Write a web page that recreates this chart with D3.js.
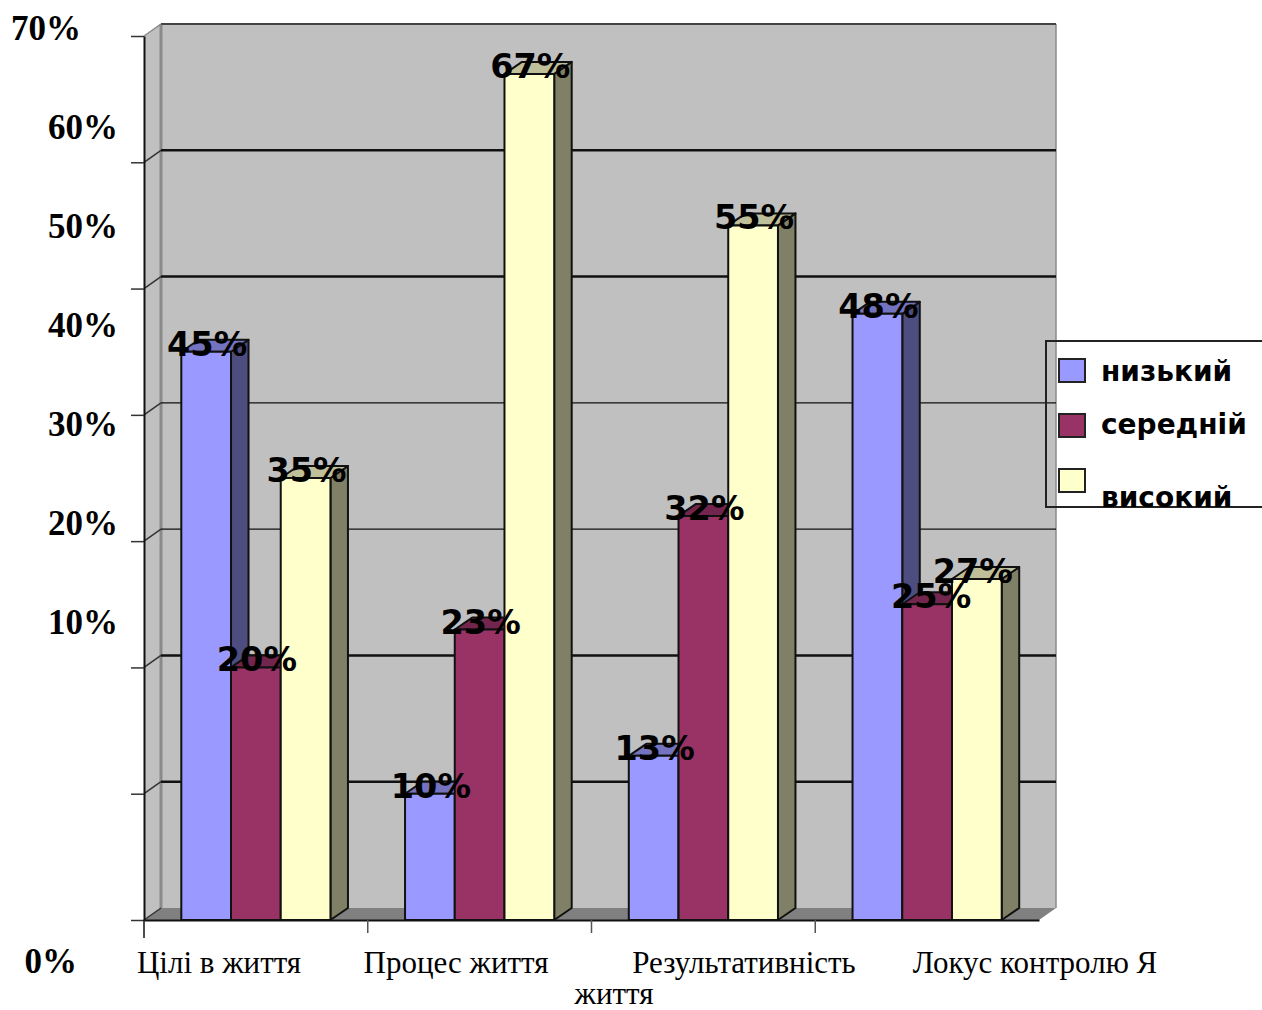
<!DOCTYPE html>
<html>
<head>
<meta charset="utf-8">
<script src="https://cdn.jsdelivr.net/npm/d3@7"></script>
<style>
  html, body { margin: 0; padding: 0; background: #fff; }
  svg { display: block; }
  .axis-y { font: bold 35px "Liberation Serif", serif; fill: #000; }
  .axis-x { font: 31px "Liberation Serif", serif; fill: #000; }
  .value { font: bold 33.5px "DejaVu Sans", sans-serif; fill: #000; }
  .legend-label { font: bold 28px "DejaVu Sans", sans-serif; fill: #000; }
</style>
</head>
<body>
<div id="chart"></div>
<script>
const categories = ["Цілі в життя", "Процес життя", "Результативність життя", "Локус контролю Я"];
const seriesNames = ["низький", "середній", "високий"];
const low = [45, 10, 13, 48];
const medium = [20, 23, 32, 25];
const high = [35, 67, 55, 27];
const yTicks = [0, 10, 20, 30, 40, 50, 60, 70];
const colors = ["#9999ff", "#993366", "#ffffcc"];

const seriesValues = [low, medium, high];

const width = 1262, height = 1010;
// plot box: front floor corner and the 3d depth of the walls
const plot = { left: 144, right: 1039, top: 36, bottom: 920 };
const wallDepth = { x: 17, y: 12 };
const barDepth = { x: 17.5, y: 12 };

const svg = d3.select("#chart").append("svg")
  .attr("width", width)
  .attr("height", height);

const x0 = d3.scaleBand().domain(categories).range([plot.left, plot.right]);
const x1 = d3.scaleBand().domain(seriesNames)
  .range([x0.bandwidth() / 6, x0.bandwidth() * 5 / 6]);
const y = d3.scaleLinear().domain([0, 70]).range([plot.bottom, plot.top]);

// the value labels in the source sit away from their ticks
const yLabelPos = d3.scaleLinear().domain([0, 10, 70]).range([973, 634, 40]);

// walls
const backLeft = plot.left + wallDepth.x, backRight = plot.right + wallDepth.x;
const backTop = plot.top - wallDepth.y, backBottom = plot.bottom - wallDepth.y;

svg.append("rect")
  .attr("x", backLeft).attr("y", backTop)
  .attr("width", backRight - backLeft).attr("height", backBottom - backTop)
  .attr("fill", "#c0c0c0");

svg.append("path")
  .attr("d", `M${plot.left},${plot.top}L${backLeft},${backTop}L${backLeft},${backBottom}L${plot.left},${plot.bottom}Z`)
  .attr("fill", "#c0c0c0");

svg.append("path")
  .attr("d", `M${plot.left},${plot.bottom}L${backLeft},${backBottom}L${backRight},${backBottom}L${plot.right},${plot.bottom}Z`)
  .attr("fill", "#808080");

svg.append("line")
  .attr("x1", backLeft).attr("x2", backLeft).attr("y1", backTop).attr("y2", backBottom)
  .attr("stroke", "#8a8a8a").attr("stroke-width", 3);
svg.append("line")
  .attr("x1", backRight).attr("x2", backRight).attr("y1", backTop).attr("y2", backBottom)
  .attr("stroke", "#8a8a8a").attr("stroke-width", 1.5);
svg.append("line")
  .attr("x1", backLeft).attr("x2", backRight).attr("y1", backTop).attr("y2", backTop)
  .attr("stroke", "#444").attr("stroke-width", 2);

// gridlines on the back wall, left slant on the side wall
const grid = svg.append("g");
yTicks.filter((d) => d > 0 && d < 70).forEach((d) => {
  // thin in the middle of the wall, thick elsewhere (scan artefact in the source)
  const w = d === 30 || d === 40 ? 1.4 : 2.6;
  grid.append("line")
    .attr("x1", backLeft).attr("x2", backRight)
    .attr("y1", y(d) - wallDepth.y).attr("y2", y(d) - wallDepth.y)
    .attr("stroke", "#111").attr("stroke-width", w);
  grid.append("line")
    .attr("x1", plot.left).attr("x2", backLeft)
    .attr("y1", y(d)).attr("y2", y(d) - wallDepth.y)
    .attr("stroke", "#333").attr("stroke-width", 1.5);
});
grid.append("line")
  .attr("x1", plot.left).attr("x2", backLeft)
  .attr("y1", y(70)).attr("y2", y(70) - wallDepth.y)
  .attr("stroke", "#888").attr("stroke-width", 1.5);
grid.append("line")
  .attr("x1", plot.left).attr("x2", backLeft)
  .attr("y1", y(0)).attr("y2", y(0) - wallDepth.y)
  .attr("stroke", "#333").attr("stroke-width", 1.5);

// axes
svg.append("g")
  .attr("transform", `translate(${plot.left},0)`)
  .call(d3.axisLeft(y).tickValues(yTicks).tickFormat("").tickSize(13).tickSizeOuter(0))
  .call((g) => g.selectAll("line").attr("stroke", "#333").attr("stroke-width", 1.5))
  .call((g) => g.select(".domain").attr("stroke", "#111").attr("stroke-width", 2));

svg.append("g")
  .attr("transform", `translate(0,${plot.bottom})`)
  .call(d3.axisBottom(x0).tickValues([]).tickSizeOuter(0))
  .call((g) => g.select(".domain").attr("stroke", "#111").attr("stroke-width", 2));

svg.append("g").selectAll("line")
  .data(categories)
  .join("line")
  .attr("x1", (d) => x0(d)).attr("x2", (d) => x0(d))
  .attr("y1", plot.bottom).attr("y2", (d, i) => plot.bottom + (i === 0 ? 18 : 13))
  .attr("stroke", (d, i) => (i === 0 ? "#111" : "#555"))
  .attr("stroke-width", 1.5);

svg.append("g").selectAll("text")
  .data(yTicks)
  .join("text")
  .attr("class", "axis-y")
  .attr("text-anchor", "end")
  .attr("x", (d) => (d === 70 ? 81 : d === 0 ? 77 : 118))
  .attr("y", (d) => yLabelPos(d))
  .text((d) => d + "%");

// category labels are not centred on their bands in the source
const catLabelX = [219, 456, 744, 1035];
const catBaseline = 973;
svg.append("g").selectAll("text")
  .data(categories)
  .join("text")
  .attr("class", "axis-x")
  .attr("text-anchor", "middle")
  .attr("x", (d, i) => catLabelX[i])
  .attr("y", catBaseline)
  .text((d) => (d.startsWith("Результ") ? d.replace(" життя", "") : d));
svg.append("text")
  .attr("class", "axis-x")
  .attr("text-anchor", "middle")
  .attr("x", 614)
  .attr("y", 1004)
  .text("життя");

// bars, left to right so the next bar covers the side of the previous one
const bars = svg.append("g");
categories.forEach((cat, c) => {
  seriesNames.forEach((name, s) => {
    const v = seriesValues[s][c];
    const bx = x0(cat) + x1(name), bw = x1.bandwidth();
    const by = y(v);
    const g = bars.append("g")
      .attr("stroke", "#111")
      .attr("stroke-width", 2)
      .attr("stroke-linejoin", "round");
    const base = d3.rgb(colors[s]);
    const shade = (k) => d3.rgb(base.r * k, base.g * k, base.b * k);
    const r = bx + bw;
    g.append("path")
      .attr("d", `M${r},${by}L${r + barDepth.x},${by - barDepth.y}L${r + barDepth.x},${y(0) - barDepth.y}L${r},${y(0)}Z`)
      .attr("fill", shade(0.5));
    g.append("path")
      .attr("d", `M${bx},${by}L${bx + barDepth.x},${by - barDepth.y}L${r + barDepth.x},${by - barDepth.y}L${r},${by}Z`)
      .attr("fill", shade(0.75));
    g.append("rect")
      .attr("x", bx).attr("y", by)
      .attr("width", bw).attr("height", y(0) - by)
      .attr("fill", colors[s]);
  });
});

// value labels go over all the bars
// the last two labels are pushed apart in the source
const labelNudge = { "3,1": 3, "3,2": -5 };
categories.forEach((cat, c) => {
  seriesNames.forEach((name, s) => {
    svg.append("text")
      .attr("class", "value")
      .attr("text-anchor", "middle")
      .attr("x", x0(cat) + x1(name) + x1.bandwidth() / 2 + 1 + (labelNudge[c + "," + s] || 0))
      .attr("y", y(seriesValues[s][c]) + 4)
      .text(seriesValues[s][c] + "%");
  });
});

// legend, cut off by the right edge like the source
const legend = svg.append("g");
legend.append("path")
  .attr("d", `M${width},341H1046V507H${width}`)
  .attr("fill", "none")
  .attr("stroke", "#222")
  .attr("stroke-width", 2);

const swatchY = [359, 414, 469];
const labelY = [381, 434, 507];
seriesNames.forEach((name, i) => {
  legend.append("rect")
    .attr("x", 1059).attr("y", swatchY[i])
    .attr("width", 26).attr("height", 23)
    .attr("fill", colors[i])
    .attr("stroke", "#222").attr("stroke-width", 2);
  legend.append("text")
    .attr("class", "legend-label")
    .attr("x", 1101).attr("y", labelY[i])
    .text(name);
});
</script>
</body>
</html>
